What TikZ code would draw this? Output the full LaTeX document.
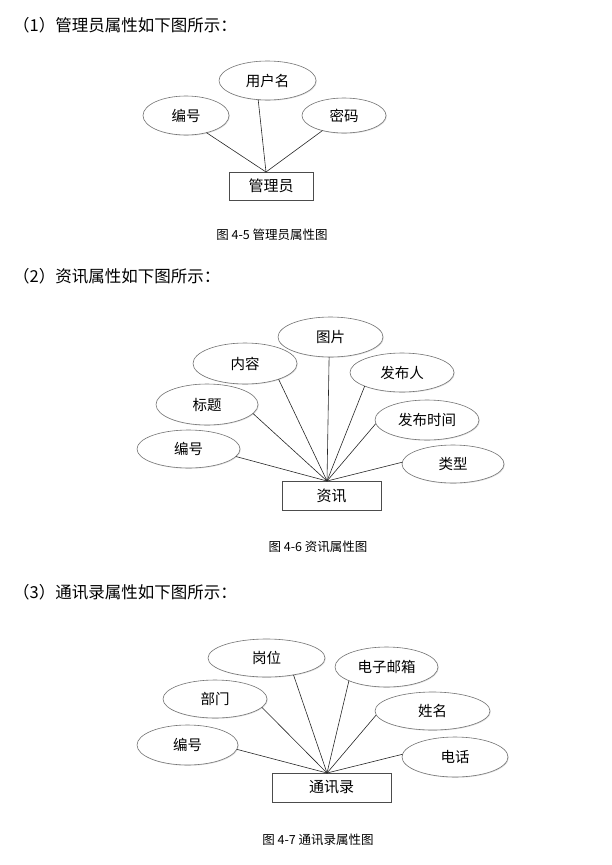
\documentclass[tikz,border=0pt]{standalone}
\usepackage{fontspec}
\setmainfont{Noto Sans CJK SC}
\usetikzlibrary{shapes.geometric, shadows}

\begin{document}
\begin{tikzpicture}[x=1pt, y=-1pt,
  attr/.style 2 args={ellipse, draw=black!55, fill=white, line width=0.6pt,
    inner sep=0pt, outer sep=0pt, minimum width=#1, minimum height=#2,
    font=\fontsize{14.5}{16}\selectfont,
    drop shadow={shadow xshift=0.8pt, shadow yshift=-0.8pt, fill=black!20, opacity=0.6}},
  ent/.style 2 args={rectangle, draw=black!70, fill=white, line width=0.6pt,
    inner sep=0pt, outer sep=0pt, minimum width=#1, minimum height=#2,
    font=\fontsize{15}{16}\selectfont,
    drop shadow={shadow xshift=1.2pt, shadow yshift=-1.2pt, fill=black!35, opacity=0.7}},
  link/.style={draw=black!85, line width=0.6pt},
  head/.style={anchor=west, inner sep=0pt, font=\fontsize{16.5}{18}\selectfont},
  capt/.style={inner sep=0pt, font=\fontsize{12.5}{15}\selectfont}]
\useasboundingbox (0,0) rectangle (612,865);

% (1) administrator
\node[head] (t1) at (13,25) {（1）管理员属性如下图所示：};
\node[ent={84}{28}] (gly) at (271,186) {管理员};
\node[attr={86}{39}] (bh1) at (186,115.5) {编号};
\node[attr={97}{39}] (yhm) at (267.5,80.5) {用户名};
\node[attr={84}{35}] (mm) at (344,115.5) {密码};
\coordinate (h1) at ([xshift=-5pt]gly.north);
\foreach \n/\a in {bh1/320, yhm/244, mm/215}
  \draw[link] (\n.\a) -- (h1);
\node[capt] (c1) at (272,235) {图 4-5 管理员属性图};

% (2) news
\node[head] (t2) at (13,276) {（2）资讯属性如下图所示：};
\node[ent={99}{29}] (zx) at (331.5,495.5) {资讯};
\node[attr={103}{38}] (bh2) at (188.5,449) {编号};
\node[attr={102}{41}] (bt) at (207,404.5) {标题};
\node[attr={104}{41}] (nr) at (245,363.5) {内容};
\node[attr={105}{40}] (tp) at (330.5,337) {图片};
\node[attr={104}{39}] (fbr) at (402,372.5) {发布人};
\node[attr={104}{40}] (fbsj) at (427,420) {发布时间};
\node[attr={102}{38}] (lx) at (453,464) {类型};
\coordinate (h2) at ([xshift=-4.5pt]zx.north);
\foreach \n/\a in {bh2/351, bt/349, nr/335, tp/266, fbr/200, fbsj/184, lx/178}
  \draw[link] (\n.\a) -- (h2);
\node[capt] (c2) at (318,546.5) {图 4-6 资讯属性图};

% (3) contacts
\node[head] (t3) at (13,592) {（3）通讯录属性如下图所示：};
\node[ent={119}{29}] (txl) at (331.5,787.5) {通讯录};
\node[attr={101}{40}] (bh3) at (187.5,745) {编号};
\node[attr={104}{38}] (bm) at (215,699) {部门};
\node[attr={117}{38}] (gw) at (266.5,658) {岗位};
\node[attr={103}{40}] (yx) at (386.5,667) {电子邮箱};
\node[attr={115}{38}] (xm) at (432.5,711) {姓名};
\node[attr={106}{40}] (dh) at (455,757) {电话};
\coordinate (h3) at ([xshift=-4.5pt]txl.north);
\foreach \n/\a in {bh3/355, bm/350, gw/328, yx/200, xm/184, dh/177}
  \draw[link] (\n.\a) -- (h3);
\node[capt] (c3) at (318,840) {图 4-7 通讯录属性图};
\end{tikzpicture}
\end{document}
